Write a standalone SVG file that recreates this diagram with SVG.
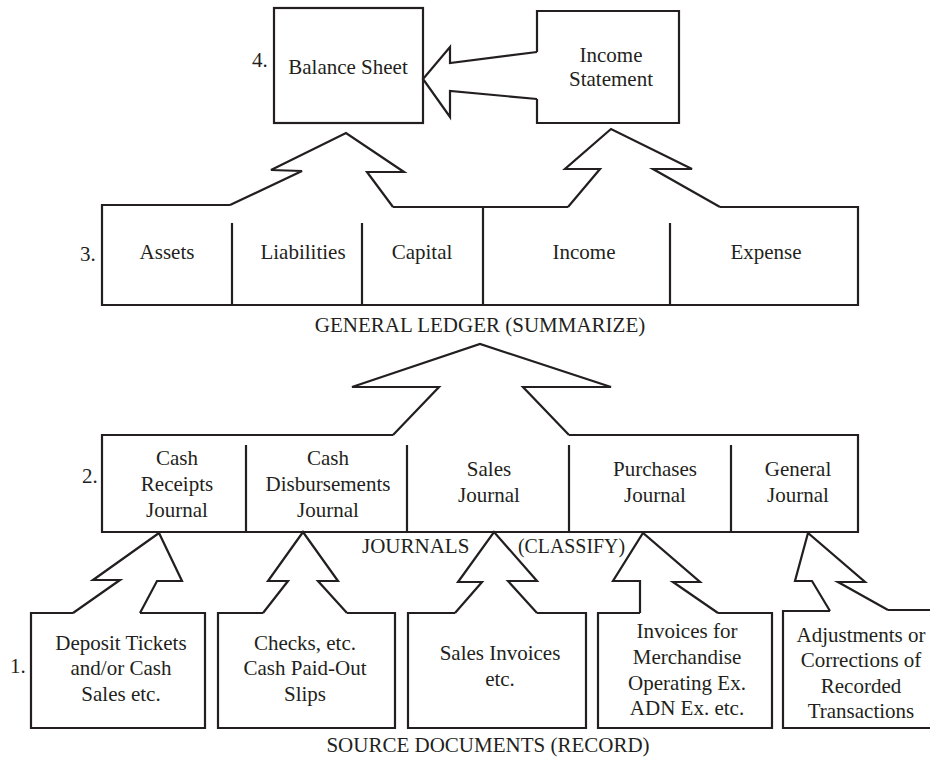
<svg xmlns="http://www.w3.org/2000/svg" width="930" height="757" viewBox="0 0 930 757">
  <style>
    .ln { fill: none; stroke: #231f20; stroke-width: 2.2; stroke-linejoin: miter; stroke-linecap: butt; }
    text { font-family: "Liberation Serif", "Times New Roman", serif; font-size: 21px; fill: #231f20; }
    .c { text-anchor: middle; }
  </style>
  <rect x="0" y="0" width="930" height="757" fill="#ffffff"/>

  <!-- Level 4: statements -->
  <g id="balance-sheet">
    <rect class="ln" x="274" y="8" width="149" height="115"/>
    <text x="252" y="67">4.</text>
    <text class="c" x="348" y="74">Balance Sheet</text>
  </g>
  <g id="income-statement">
    <path class="ln" d="M537,52 L537,11 L679,11 L679,123 L537,123 L537,99"/>
    <text class="c" x="611" y="62">Income</text>
    <text class="c" x="611" y="86">Statement</text>
  </g>

  <!-- Level 3: general ledger -->
  <g id="general-ledger">
    <path class="ln" d="M230,205 L102,205 L102,305 L858,305 L858,207 L720,207 M393,207 L568,207"/>
    <path class="ln" d="M232,223 V305 M362,223 V305 M483,207 V305 M670,223 V305"/>
    <text x="80" y="261">3.</text>
    <text class="c" x="167" y="259">Assets</text>
    <text class="c" x="303" y="259">Liabilities</text>
    <text class="c" x="422" y="259">Capital</text>
    <text class="c" x="584" y="259">Income</text>
    <text class="c" x="766" y="259">Expense</text>
    <text class="c" x="480" y="332">GENERAL LEDGER (SUMMARIZE)</text>
  </g>

  <!-- Level 2: journals -->
  <g id="journals">
    <path class="ln" d="M393,435 L102,435 L102,532 L858,532 L858,435 L569,435"/>
    <path class="ln" d="M246,445 V532 M407,445 V532 M569,445 V532 M731,445 V532"/>
    <text x="82" y="483">2.</text>
    <text class="c" x="177" y="465">Cash</text>
    <text class="c" x="177" y="491">Receipts</text>
    <text class="c" x="177" y="517">Journal</text>
    <text class="c" x="328" y="465">Cash</text>
    <text class="c" x="328" y="491">Disbursements</text>
    <text class="c" x="328" y="517">Journal</text>
    <text class="c" x="489" y="476">Sales</text>
    <text class="c" x="489" y="502">Journal</text>
    <text class="c" x="655" y="476">Purchases</text>
    <text class="c" x="655" y="502">Journal</text>
    <text class="c" x="798" y="476">General</text>
    <text class="c" x="798" y="502">Journal</text>
    <text x="362" y="553">JOURNALS</text>
    <text x="518" y="553" textLength="107" lengthAdjust="spacingAndGlyphs">(CLASSIFY)</text>
  </g>

  <!-- Level 1: source documents -->
  <g id="source-deposits">
    <path class="ln" d="M73,613 L31,613 L31,728 L205,728 L205,613 L140,613"/>
    <text x="10" y="673">1.</text>
    <text class="c" x="121" y="650">Deposit Tickets</text>
    <text class="c" x="121" y="675">and/or Cash</text>
    <text class="c" x="121" y="701">Sales etc.</text>
  </g>
  <g id="source-checks">
    <path class="ln" d="M263,613 L218,613 L218,728 L395,728 L395,613 L347,613"/>
    <text class="c" x="305" y="650">Checks, etc.</text>
    <text class="c" x="305" y="675">Cash Paid-Out</text>
    <text class="c" x="305" y="701">Slips</text>
  </g>
  <g id="source-sales-invoices">
    <path class="ln" d="M455,613 L408,613 L408,728 L586,728 L586,613 L537,613"/>
    <text class="c" x="500" y="660">Sales Invoices</text>
    <text class="c" x="500" y="686">etc.</text>
  </g>
  <g id="source-purchase-invoices">
    <path class="ln" d="M640,613 L598,613 L598,728 L772,728 L772,613 L718,613"/>
    <text class="c" x="687" y="638">Invoices for</text>
    <text class="c" x="687" y="664">Merchandise</text>
    <text class="c" x="687" y="690">Operating Ex.</text>
    <text class="c" x="687" y="715">ADN Ex. etc.</text>
  </g>
  <g id="source-adjustments">
    <path class="ln" d="M830,611 L783,611 L783,728 L940,728 L940,610 L888,610"/>
    <text class="c" x="861" y="642">Adjustments or</text>
    <text class="c" x="861" y="667">Corrections of</text>
    <text class="c" x="861" y="693">Recorded</text>
    <text class="c" x="861" y="718">Transactions</text>
  </g>
  <g id="source-label">
    <text class="c" x="488" y="752">SOURCE DOCUMENTS (RECORD)</text>
  </g>

  <!-- Block arrows between levels -->
  <g id="connectors">
    <!-- income statement into balance sheet -->
    <path class="ln" d="M537,52 L450,63 L450,47 L423,79 L450,117 L450,91 L537,99"/>
    <!-- ledger up to the statements -->
    <path class="ln" d="M230,205 L302,171 L271,170 L346,133 L404,172 L367,172 L393,207"/>
    <path class="ln" d="M568,207 L600,169 L565,169 L611,129 L692,169 L653,169 L720,207"/>
    <!-- journals up to the ledger -->
    <path class="ln" d="M393,435 L439,387 L352,387 L480,344 L611,387 L523,387 L569,435"/>
    <!-- source documents up to the journals -->
    <path class="ln" d="M73,613 L120,580 L93,580 L159,533 L182,581 L157,581 L140,613"/>
    <path class="ln" d="M263,613 L288,581 L268,581 L303,532 L338,581 L318,581 L347,613"/>
    <path class="ln" d="M455,613 L482,582 L458,582 L494,532 L537,581 L508,581 L537,613"/>
    <path class="ln" d="M640,613 L640,581 L613,581 L643,533 L700,582 L673,582 L718,613"/>
    <path class="ln" d="M830,611 L812,581 L795,581 L808,533 L865,582 L838,582 L888,610"/>
  </g>
</svg>
